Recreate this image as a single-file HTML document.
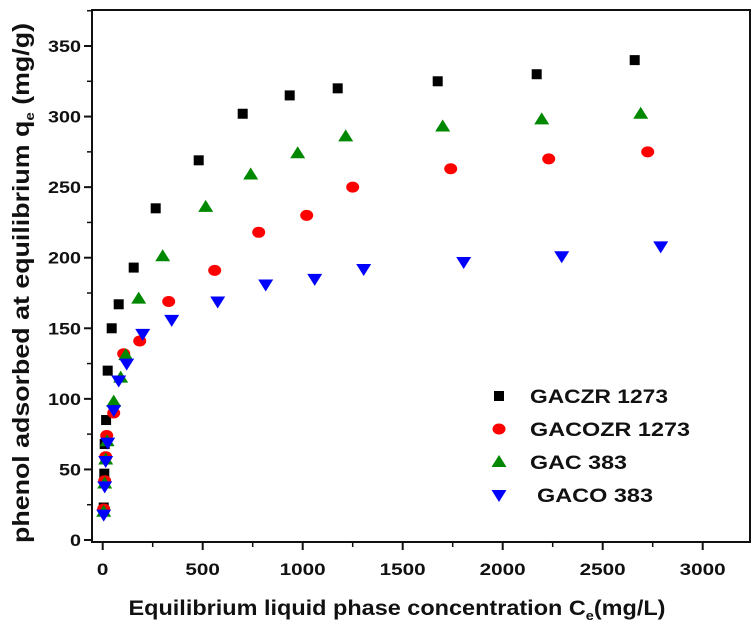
<!DOCTYPE html>
<html><head><meta charset="utf-8"><style>
body{margin:0;background:#fff}
svg text{font-family:"Liberation Sans",sans-serif;font-weight:bold;fill:#111}
</style></head><body>
<svg width="754" height="633" viewBox="0 0 754 633">
<g id="axes"></g><g id="marks"></g><g id="legend"></g>
<text transform="translate(29,283) rotate(-90)" text-anchor="middle" font-size="23" textLength="520" lengthAdjust="spacingAndGlyphs">phenol adsorbed at equilibrium q<tspan font-size="13" dy="5">e</tspan><tspan dy="-5"> (mg/g)</tspan></text>
<text x="397" y="615" text-anchor="middle" font-size="21" textLength="537" lengthAdjust="spacingAndGlyphs">Equilibrium liquid phase concentration C<tspan font-size="13" dy="5">e</tspan><tspan dy="-5">(mg/L)</tspan></text>
</svg>
<script>
const xTicks=[0,500,1000,1500,2000,2500,3000];
const yTicks=[0,50,100,150,200,250,300,350];
const seriesNames=["GACZR 1273","GACOZR 1273","GAC 383","GACO 383"];
const gaczrX=[5,8,10,17,25,45,80,155,265,480,700,935,1175,1675,2170,2660];
const gaczrY=[23,47,68,85,120,150,167,193,235,269,302,315,320,325,330,340];
const gacozrX=[5,10,15,20,55,105,185,330,560,780,1020,1250,1740,2230,2725];
const gacozrY=[22,42,59,74,90,132,141,169,191,218,230,250,263,270,275];
const gacX=[5,10,15,22,55,90,115,180,300,515,740,975,1215,1700,2195,2690];
const gacY=[20,40,57,70,98,115,131,171,201,236,259,274,286,293,298,302];
const gacoX=[5,10,15,25,55,80,120,200,345,575,815,1060,1305,1805,2295,2790];
const gacoY=[18,38,56,69,92,113,125,146,156,169,181,185,192,197,201,208];
const NS="http://www.w3.org/2000/svg";
const sx=v=>102.7+v*0.2;
const sy=v=>540-v*(494/350);
const L=92,R=750,T=10,B=542;
function mk(tag,at,parent){const e=document.createElementNS(NS,tag);for(const k in at)e.setAttribute(k,at[k]);parent.appendChild(e);return e;}
const ax=document.getElementById('axes');
const frame=mk('rect',{x:L,y:T,width:R-L,height:B-T,fill:'none',stroke:'#111','stroke-width':2},ax);


xTicks.forEach((t,i)=>{
  mk('line',{x1:sx(t),x2:sx(t),y1:B,y2:B+8,stroke:'#111','stroke-width':2},ax);
  if(i<xTicks.length-1) mk('line',{x1:sx(t+250),x2:sx(t+250),y1:B,y2:B+5,stroke:'#111','stroke-width':1.5},ax);
  const s=String(t);
  const tx=mk('text',{x:sx(t),y:575,'text-anchor':'middle','font-size':17,textLength:s.length*11.5,lengthAdjust:'spacingAndGlyphs'},ax);
  tx.textContent=s;
  
  
});
yTicks.forEach((t,i)=>{
  mk('line',{x1:L-8,x2:L,y1:sy(t),y2:sy(t),stroke:'#111','stroke-width':2},ax);
  mk('line',{x1:L-5,x2:L,y1:sy(t+25),y2:sy(t+25),stroke:'#111','stroke-width':1.5},ax);
  const s=String(t);
  const tx=mk('text',{x:L-11,y:sy(t)+6,'text-anchor':'end','font-size':17,textLength:s.length*11,lengthAdjust:'spacingAndGlyphs'},ax);
  tx.textContent=s;
  
  
});
const mg=document.getElementById('marks');
function marker(kind,x,y,parent){
  let e;
  if(kind===0) e=mk('rect',{x:x-5,y:y-5,width:10,height:10,fill:'#000'},parent);
  else if(kind===1) e=mk('ellipse',{cx:x,cy:y,rx:6.5,ry:5.5,fill:'#f00'},parent);
  else if(kind===2) e=mk('polygon',{points:`${x},${y-7} ${x+7.5},${y+5} ${x-7.5},${y+5}`,fill:'#080'},parent);
  else e=mk('polygon',{points:`${x-7.5},${y-5} ${x+7.5},${y-5} ${x},${y+7}`,fill:'#00f'},parent);
  return e;
}
const all=[[gaczrX,gaczrY],[gacozrX,gacozrY],[gacX,gacY],[gacoX,gacoY]];
all.forEach((s,k)=>{
  s[0].forEach((xv,i)=>{
    const e=marker(k,sx(xv),sy(s[1][i]),mg);
    
    
  });
});
const lg=document.getElementById('legend');
const ly=[396,429,462,495];
const lw=[138,160,97,116];
seriesNames.forEach((n,k)=>{
  const m=marker(k,499,ly[k],lg);
  
  
  const t=mk('text',{x:k===3?537:530,y:ly[k]+7,'font-size':19,textLength:lw[k],lengthAdjust:'spacingAndGlyphs'},lg);
  t.textContent=n;
  
  
});
</script>
</body></html>
